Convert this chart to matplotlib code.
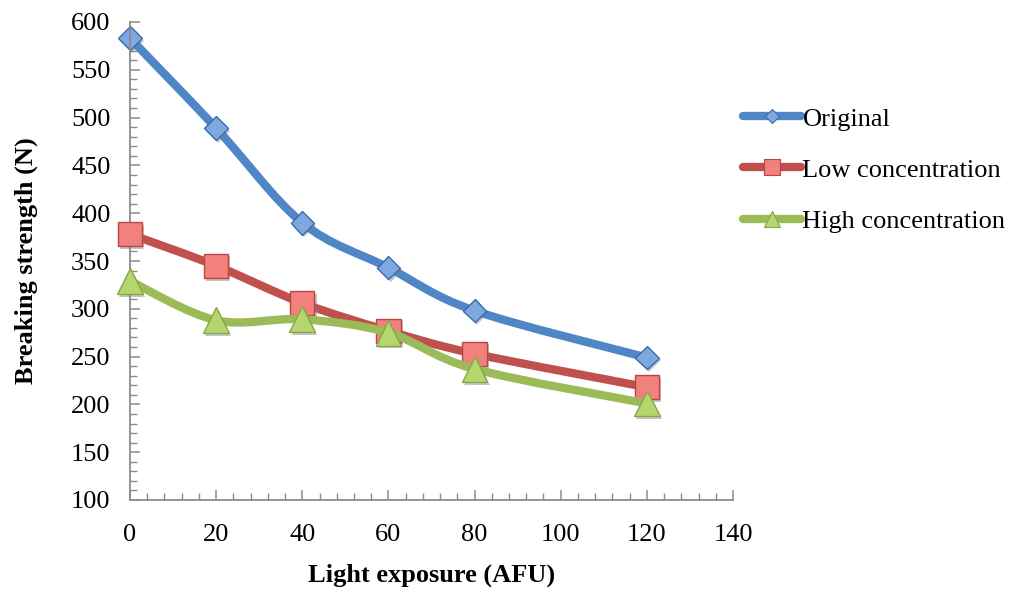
import matplotlib
matplotlib.use('Agg')
import matplotlib.pyplot as plt
import matplotlib.patheffects as pe
from matplotlib.path import Path
from matplotlib.patches import PathPatch
from matplotlib.lines import Line2D
from matplotlib.ticker import MultipleLocator
import numpy as np

plt.rcParams['font.family'] = ['Liberation Serif', 'DejaVu Serif']

# Light exposure levels (AFU) and breaking strength (N)
exposure = [0, 20, 40, 60, 80, 120]
original = [583, 489, 390, 343, 298, 249]
low_conc = [378, 345, 306, 277, 253, 218]
high_conc = [329, 288, 289, 275, 237, 201]

series_names = ['Original', 'Low concentration', 'High concentration']
line_colors = ['#4F86C6', '#C0504D', '#9BBB59']
face_colors = ['#7EA9E0', '#F2817D', '#B5D56F']
edge_colors = ['#3A6AAE', '#B84643', '#86A845']
markers = ['D', 's', '^']
marker_sizes = [12, 17.5, 18.5]
legend_marker_sizes = [7.5, 11, 11.5]


def smooth_path(xs, ys):
    """Catmull-Rom style Bezier path through the points (like a smoothed Excel line)."""
    pts = np.column_stack([xs, ys]).astype(float)
    padded = np.vstack([pts[0], pts, pts[-1]])
    verts = [pts[0]]
    codes = [Path.MOVETO]
    for i in range(len(pts) - 1):
        p0, p1, p2, p3 = padded[i], padded[i + 1], padded[i + 2], padded[i + 3]
        c1 = p1 + (p2 - p0) / 6.0
        c2 = p2 - (p3 - p1) / 6.0
        verts += [c1, c2, p2]
        codes += [Path.CURVE4] * 3
    return Path(verts, codes)


fig = plt.figure(figsize=(10.14, 5.92), dpi=100)
ax = fig.add_axes([130 / 1014, 92 / 592, 603 / 1014, 478 / 592])

shadow = [pe.SimplePatchShadow(offset=(1.5, -2), shadow_rgbFace='#808080', alpha=0.45), pe.Normal()]

handles = []
for i, values in enumerate([original, low_conc, high_conc]):
    patch = PathPatch(smooth_path(exposure, values), fill=False, edgecolor=line_colors[i],
                      linewidth=6, capstyle='round', joinstyle='round', zorder=2 + i)
    ax.add_patch(patch)
    ax.plot(exposure, values, linestyle='none', marker=markers[i], markersize=marker_sizes[i],
            markerfacecolor=face_colors[i], markeredgecolor=edge_colors[i], markeredgewidth=1.0,
            zorder=2.5 + i, path_effects=shadow, clip_on=False)
    handles.append(Line2D([], [], color=line_colors[i], linewidth=6, solid_capstyle='round',
                          marker=markers[i], markersize=legend_marker_sizes[i],
                          markerfacecolor=face_colors[i], markeredgecolor=edge_colors[i],
                          markeredgewidth=0.8))

ax.set_xlim(0, 140)
ax.set_ylim(100, 600)
ax.xaxis.set_major_locator(MultipleLocator(20))
ax.xaxis.set_minor_locator(MultipleLocator(4))
ax.yaxis.set_major_locator(MultipleLocator(50))
ax.yaxis.set_minor_locator(MultipleLocator(10))

for side in ['top', 'right']:
    ax.spines[side].set_visible(False)
for side in ['left', 'bottom']:
    ax.spines[side].set_color('#8C8C8C')
    ax.spines[side].set_linewidth(1.3)

ax.tick_params(axis='both', which='major', direction='in', length=7, width=1.1,
               color='#8C8C8C', labelsize=19, labelcolor='black')
ax.tick_params(axis='both', which='minor', direction='in', length=5, width=1.0, color='#8C8C8C')
ax.tick_params(axis='x', which='major', pad=17)
ax.tick_params(axis='y', which='major', pad=14)

ax.set_xlabel('Light exposure (AFU)', fontsize=19, fontweight='bold', labelpad=13)
ax.set_ylabel('Breaking strength (N)', fontsize=19, fontweight='bold', labelpad=24)

fig.legend(handles, series_names, loc='center left', bbox_to_anchor=(743 / 1014, 422 / 592),
           frameon=False, fontsize=19, handlelength=2.2, handletextpad=0.05,
           labelspacing=1.05, borderpad=0, borderaxespad=0)

fig.savefig('out.png', dpi=100)
